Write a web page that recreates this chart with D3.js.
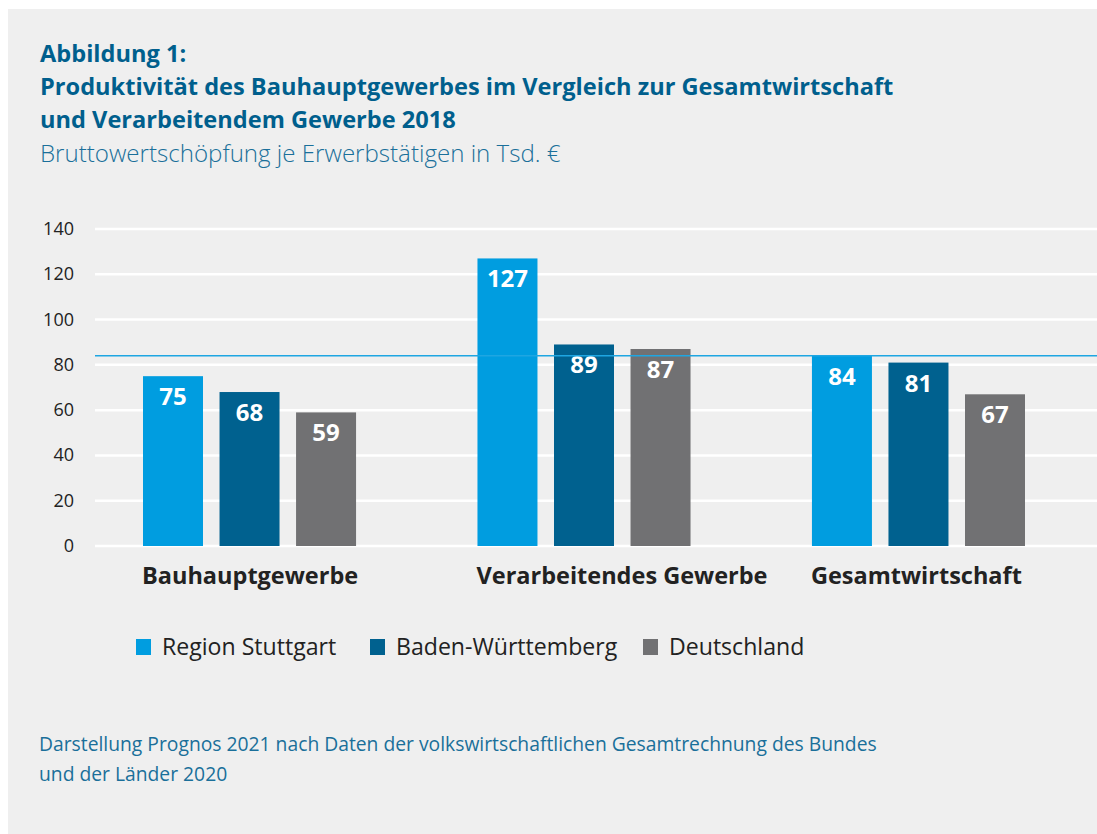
<!DOCTYPE html>
<meta charset="utf-8" />
<title>Produktivität des Bauhauptgewerbes</title>
<style>
  body {
    margin: 0;
    background: #fff;
    font-family: "Open Sans", "Noto Sans", sans-serif;
  }
  svg {
    display: block;
  }
  .grid line {
    stroke: #fff;
    stroke-width: 2.5px;
  }
  .tick-label {
    font-size: 18px;
    fill: #222;
  }
  .value {
    font-size: 24px;
    font-weight: bold;
    fill: #fff;
  }
  .cat {
    font-size: 23.5px;
    font-weight: bold;
    fill: #222;
  }
</style>

<body>
  <svg width="1097" height="834"></svg>

  <script src="https://d3js.org/d3.v7.min.js"></script>
  <script>
    const categories = ["Bauhauptgewerbe", "Verarbeitendes Gewerbe", "Gesamtwirtschaft"];
    const series = ["Region Stuttgart", "Baden-Württemberg", "Deutschland"];
    const regionStuttgart = [75, 127, 84];
    const badenWuerttemberg = [68, 89, 81];
    const deutschland = [59, 87, 67];
    const yTicks = [0, 20, 40, 60, 80, 100, 120, 140];
    const referenceValue = 84;

    const colors = ["#009de0", "#00618f", "#717173"];
    const values = [regionStuttgart, badenWuerttemberg, deutschland];

    const svg = d3.select("svg");

    // grey panel
    svg.append("rect")
      .attr("x", 8).attr("y", 9)
      .attr("width", 1089).attr("height", 825)
      .attr("fill", "#efefef");

    // titles
    const titleColor = "#005f8d";
    const titles = [
      "Abbildung 1:",
      "Produktivität des Bauhauptgewerbes im Vergleich zur Gesamtwirtschaft",
      "und Verarbeitendem Gewerbe 2018"
    ];
    svg.selectAll("text.title")
      .data(titles)
      .join("text")
      .attr("class", "title")
      .attr("x", 40)
      .attr("y", (d, i) => 62 + i * 33)
      .attr("fill", titleColor)
      .attr("font-size", 23.6)
      .attr("font-weight", "bold")
      .text(d => d);

    svg.append("text")
      .attr("x", 40).attr("y", 162)
      .attr("fill", "#1a6f9a")
      .attr("font-size", 24.1)
      .attr("font-weight", 300)
      .text("Bruttowertschöpfung je Erwerbstätigen in Tsd. €");

    // scales
    const y = d3.scaleLinear().domain([0, 140]).range([546, 229]);
    const x0 = d3.scaleBand().domain(categories).range([143, 1025]).paddingInner(0.363);
    const x1 = d3.scaleBand().domain(series).range([0, x0.bandwidth()]).paddingInner(0.216);

    // gridlines
    svg.append("g")
      .attr("class", "grid")
      .selectAll("line")
      .data(yTicks)
      .join("line")
      .attr("x1", 95).attr("x2", 1097)
      .attr("y1", d => y(d)).attr("y2", d => y(d));

    // y labels
    svg.append("g")
      .selectAll("text")
      .data(yTicks)
      .join("text")
      .attr("class", "tick-label")
      .attr("x", 74)
      .attr("y", d => y(d) + 6)
      .attr("text-anchor", "end")
      .text(d => d);

    // bars
    const groups = svg.append("g")
      .selectAll("g")
      .data(categories)
      .join("g")
      .attr("transform", d => `translate(${x0(d)},0)`);

    const cells = groups.selectAll("g")
      .data((c, ci) => series.map((s, si) => ({ s, si, v: values[si][ci] })))
      .join("g");

    cells.append("rect")
      .attr("x", d => x1(d.s))
      .attr("y", d => y(d.v))
      .attr("width", x1.bandwidth())
      .attr("height", d => y(0) - y(d.v))
      .attr("fill", d => colors[d.si]);

    cells.append("text")
      .attr("class", "value")
      .attr("x", d => x1(d.s) + x1.bandwidth() / 2)
      .attr("y", d => y(d.v) + 29)
      .attr("text-anchor", "middle")
      .text(d => d.v);

    // reference line at Region Stuttgart Gesamtwirtschaft
    svg.append("line")
      .attr("x1", 95).attr("x2", 1097)
      .attr("y1", y(referenceValue)).attr("y2", y(referenceValue))
      .attr("stroke", "#1ea6e2")
      .attr("stroke-width", 1.6);

    // category labels
    svg.append("g")
      .selectAll("text")
      .data(categories)
      .join("text")
      .attr("class", "cat")
      .attr("x", d => x0(d) - 1)
      .attr("y", 584)
      .text(d => d);

    // legend
    const legendX = [136, 370, 643];
    const legend = svg.append("g")
      .selectAll("g")
      .data(series)
      .join("g")
      .attr("transform", (d, i) => `translate(${legendX[i]},639)`);
    legend.append("rect")
      .attr("width", 15).attr("height", 16)
      .attr("fill", (d, i) => colors[i]);
    legend.append("text")
      .attr("x", 26).attr("y", 16)
      .attr("font-size", 23.1)
      .attr("fill", "#222")
      .text(d => d);

    // source note
    const source = [
      "Darstellung Prognos 2021 nach Daten der volkswirtschaftlichen Gesamtrechnung des Bundes",
      "und der Länder 2020"
    ];
    svg.selectAll("text.source")
      .data(source)
      .join("text")
      .attr("class", "source")
      .attr("x", 39)
      .attr("y", (d, i) => 751 + i * 30)
      .attr("fill", "#1a6f9a")
      .attr("font-size", 19.3)
      .text(d => d);
  </script>
</body>
